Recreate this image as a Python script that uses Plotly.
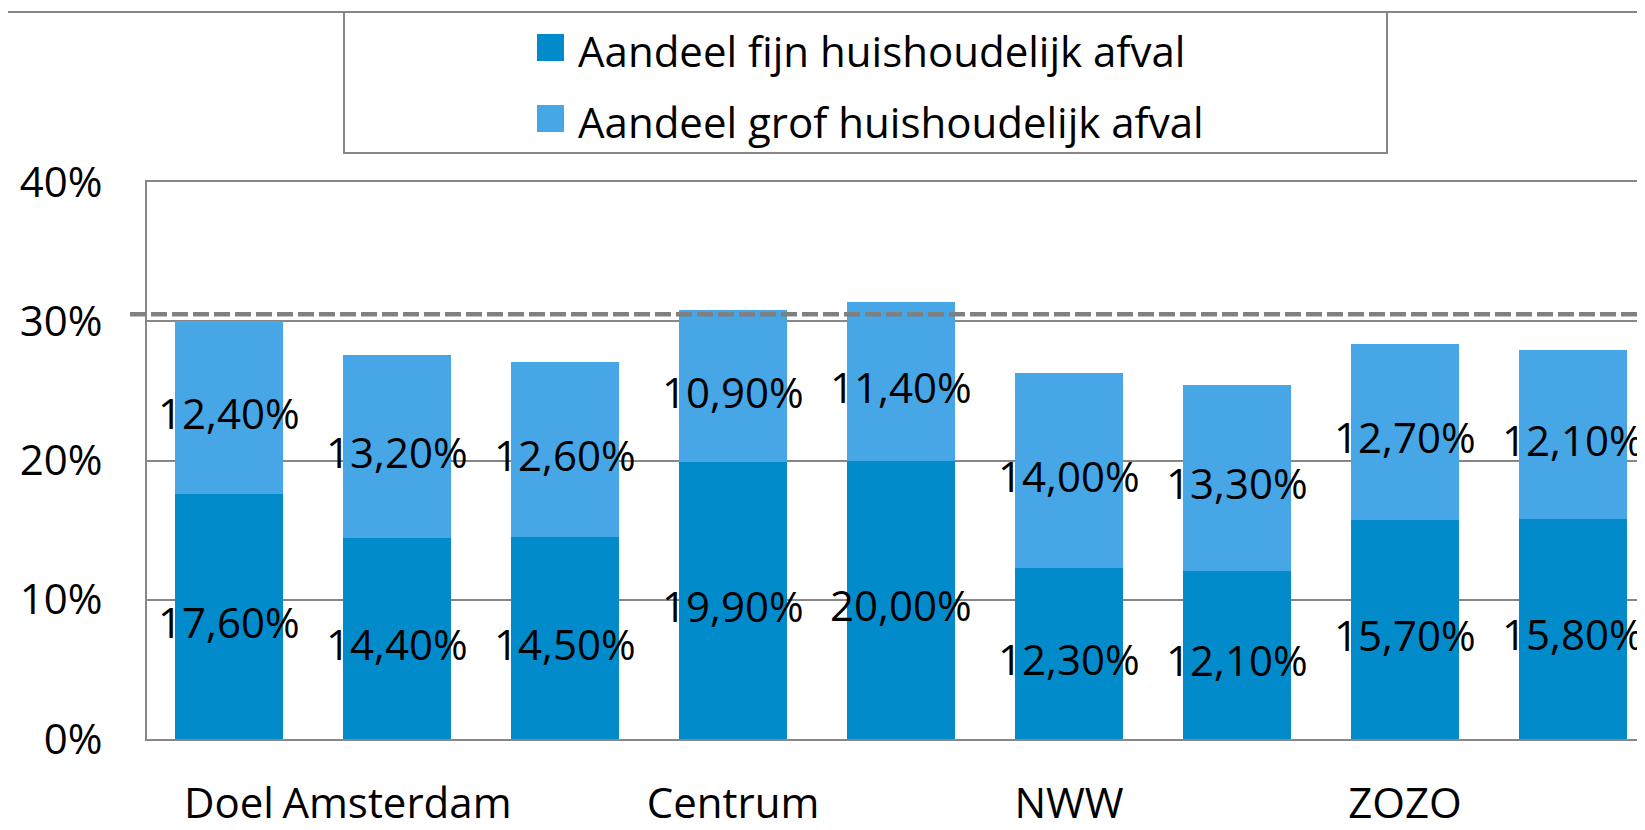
import plotly.graph_objects as go

# ---- data ----
positions = [0, 1, 2, 3, 4, 5, 6, 7, 8]
tick_positions = [0, 1, 3, 5, 7]
tick_labels = ["Doel", "Amsterdam", "Centrum", "NWW", "ZOZO"]
fijn = [17.6, 14.4, 14.5, 19.9, 20.0, 12.3, 12.1, 15.7, 15.8]
grof = [12.4, 13.2, 12.6, 10.9, 11.4, 14.0, 13.3, 12.7, 12.1]
target = 30.5
series_names = ["Aandeel fijn huishoudelijk afval", "Aandeel grof huishoudelijk afval"]
y_ticks = [0, 10, 20, 30, 40]
y_tick_labels = ["0%", "10%", "20%", "30%", "40%"]

# ---- style ----
OFF = 8  # page body margin
W, H = 1645 - OFF, 830 - OFF
L, R, T, B = 147 - OFF, 0, 182 - OFF, 91
C_FIJN = "#028BCA"
C_GROF = "#46A6E6"
GRAY = "#878787"
FONT = "Open Sans"
FS = 42

pw = W - L - R
ph = H - T - B


def px_x(px):
    # page pixel -> paper coordinate
    return (px - OFF - L) / pw


def px_y(py):
    return (H - B - (py - OFF)) / ph


def fmt(v):
    return f"{v:.2f}".replace(".", ",") + "%"


fig = go.Figure()
fig.add_trace(go.Bar(x=positions, y=fijn, name=series_names[0], marker=dict(color=C_FIJN, line=dict(width=0)),
                     width=0.64, showlegend=False, hoverinfo="skip"))
fig.add_trace(go.Bar(x=positions, y=grof, name=series_names[1], marker=dict(color=C_GROF, line=dict(width=0)),
                     width=0.64, showlegend=False, hoverinfo="skip"))

spacing = 168.0
x0 = -0.488
fig.update_layout(
    width=W, height=H,
    margin=dict(l=L, r=R, t=T, b=B, pad=0),
    barmode="stack",
    paper_bgcolor="white", plot_bgcolor="white",
    font=dict(family=FONT, size=FS, color="black"),
    xaxis=dict(range=[x0, x0 + pw / spacing], tickvals=tick_positions, ticktext=tick_labels,
               showgrid=False, zeroline=False, showline=True, linecolor=GRAY, linewidth=2,
               mirror=True, ticks="", ticklabelstandoff=27,
               tickfont=dict(family=FONT, size=FS, color="black")),
    yaxis=dict(range=[0, 40], tickvals=y_ticks, ticktext=y_tick_labels, showgrid=True, gridcolor=GRAY,
               gridwidth=2, zeroline=False, showline=True, linecolor=GRAY, linewidth=2,
               ticks="", ticklabelstandoff=34,
               tickfont=dict(family=FONT, size=FS, color="black")),
    showlegend=False,
)

shapes = []
# target dashed line
shapes.append(dict(type="line", xref="paper", yref="y", x0=px_x(130), x1=1.0, y0=target, y1=target,
                   line=dict(color="#808080", width=4.5, dash="16px,5px"), layer="above"))
# outer chart border
shapes.append(dict(type="rect", xref="paper", yref="paper", x0=px_x(7), x1=px_x(1645 + 20),
                   y0=px_y(830 + 20), y1=px_y(12), line=dict(color=GRAY, width=2),
                   fillcolor="rgba(0,0,0,0)", layer="below"))
# legend box
shapes.append(dict(type="rect", xref="paper", yref="paper", x0=px_x(344), x1=px_x(1387),
                   y0=px_y(153), y1=px_y(12), line=dict(color=GRAY, width=2),
                   fillcolor="white", layer="below"))
# legend swatches
row_centers = [47.5, 118.5]
for cy, col in zip(row_centers, [C_FIJN, C_GROF]):
    shapes.append(dict(type="rect", xref="paper", yref="paper", x0=px_x(537), x1=px_x(564),
                       y0=px_y(cy + 13.5), y1=px_y(cy - 13.5), line=dict(width=0), fillcolor=col))
fig.update_layout(shapes=shapes)

annotations = []
for cy, name in zip(row_centers, series_names):
    annotations.append(dict(xref="paper", yref="paper", x=px_x(576), y=px_y(cy + 3), text=name,
                            showarrow=False, xanchor="left", yanchor="middle",
                            font=dict(family=FONT, size=FS, color="black")))
# data labels, centred in each segment
for xi, f, g in zip(positions, fijn, grof):
    annotations.append(dict(x=xi, y=f / 2, xref="x", yref="y", text=fmt(f), showarrow=False,
                            xanchor="center", yanchor="middle", yshift=-5,
                            font=dict(family=FONT, size=FS, color="black")))
    annotations.append(dict(x=xi, y=f + g / 2, xref="x", yref="y", text=fmt(g), showarrow=False,
                            xanchor="center", yanchor="middle", yshift=-5,
                            font=dict(family=FONT, size=FS, color="black")))
fig.update_layout(annotations=annotations)

fig.write_html("out.html")
